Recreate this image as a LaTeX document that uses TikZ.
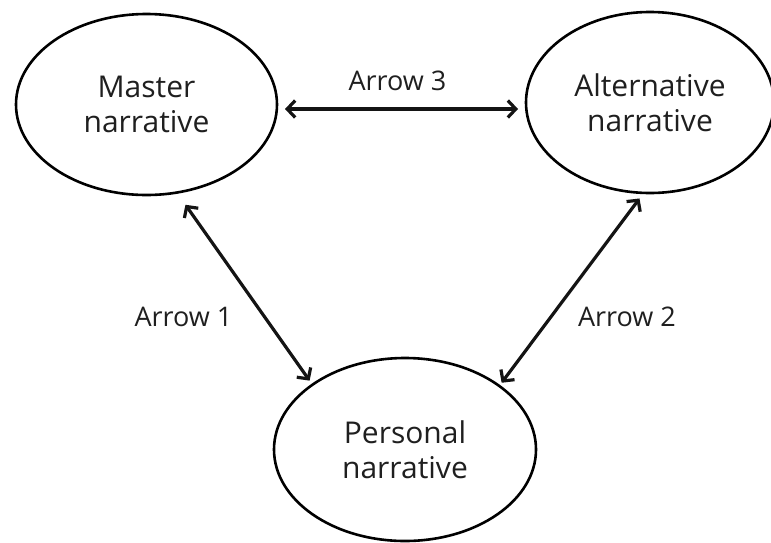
\documentclass[tikz,border=0pt]{standalone}
\usepackage{fontspec}
\setmainfont{Open Sans}
\usetikzlibrary{shapes.geometric,arrows.meta,calc}
\tikzset{
  narr/.style={ellipse, draw=black, line width=2.6pt, inner sep=0pt, outer sep=0pt,
    align=center, text=black!88, font=\fontsize{30}{35}\selectfont},
  arr/.style={line width=3.2pt, draw=black!92,
    {Straight Barb[length=8pt,width=17pt,line width=3.2pt]}-{Straight Barb[length=8pt,width=17pt,line width=3.2pt]}},
  lbl/.style={anchor=base, text=black!88, font=\fontsize{27}{32}\selectfont, inner sep=0pt}
}
\begin{document}
\begin{tikzpicture}[x=1pt,y=-1pt]
\useasboundingbox (0,0) rectangle (771,542);
\node[narr, minimum width=261pt, minimum height=181pt] (master) at (146.5,104.5) {Master\\narrative};
\node[narr, minimum width=248pt, minimum height=181pt] (alt) at (650,102.5) {Alternative\\narrative};
\node[narr, minimum width=262pt, minimum height=183pt] (pers) at (405,449.5) {Personal\\narrative};
\draw[arr] ($(master.east)+(8,4.5)$) -- ($(alt.west)+(-8,6.5)$);
\draw[arr, shorten <=15pt, shorten >=5pt] (master.-71) -- (pers.145.7);
\draw[arr, shorten <=7pt, shorten >=4pt] (alt.-94) -- (pers.34.8);
\node[lbl] (l3) at (397.5,90) {Arrow 3};
\node[lbl] (l1) at (183.5,326) {Arrow 1};
\node[lbl] (l2) at (627,326) {Arrow 2};
\end{tikzpicture}
\end{document}
